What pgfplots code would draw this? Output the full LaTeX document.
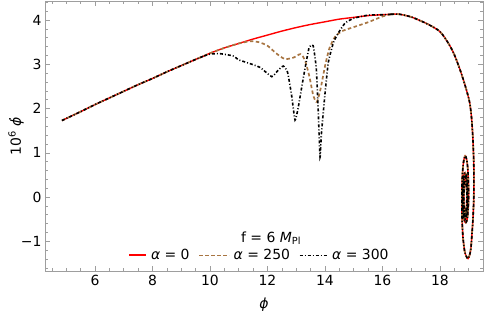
\documentclass[border=0pt]{standalone}
\usepackage{fontspec}
\setmainfont{DejaVu Sans}
\usepackage{pgfplots}
\usepackage{pgfplotstable}
\pgfplotsset{compat=1.18}
\definecolor{brn}{rgb}{0.66,0.46,0.26}
\definecolor{frm}{gray}{0.62}

\pgfplotstableread{
x y
4.85 1.73
5.5 1.93
6 2.09
6.5 2.24
7 2.39
7.5 2.54
8 2.68
8.5 2.83
9 2.97
9.5 3.11
9.8 3.19
}\commonstart

\pgfplotstableread{
x y
9.8 3.19
10 3.25
10.5 3.37
11 3.47
11.5 3.57
12 3.66
12.5 3.75
13 3.83
13.5 3.90
14 3.96
14.5 4.02
15 4.06
15.5 4.10
16 4.12
16.3 4.13
}\redmid

\pgfplotstableread{
x y
9.8 3.19
10 3.25
10.5 3.37
11 3.47
11.4 3.52
11.7 3.50
12.0 3.42
12.3 3.25
12.6 3.12
12.9 3.15
13.15 3.23
13.3 3.10
13.45 2.75
13.6 2.28
13.72 2.15
13.85 2.45
14.0 2.95
14.15 3.35
14.35 3.62
14.6 3.75
15.0 3.84
15.5 3.95
16.0 4.08
16.3 4.13
}\brownmid

\pgfplotstableread{
x y
9.8 3.19
10.0 3.23
10.35 3.24
10.8 3.19
11.0 3.10
11.28 3.04
11.74 2.93
12.15 2.72
12.35 2.85
12.55 2.96
12.7 2.82
12.84 2.30
12.96 1.74
13.07 2.02
13.25 2.70
13.45 3.38
13.59 3.42
13.7 2.90
13.77 1.90
13.83 0.90
13.88 1.45
14.0 2.32
14.12 3.05
14.3 3.50
14.46 3.70
14.7 3.93
15.0 4.04
15.5 4.11
16.0 4.12
16.3 4.13
}\blackmid

\pgfplotstableread{
x y
16.3 4.13
16.6 4.13
17 4.07
17.3 3.99
17.6 3.90
18 3.74
18.3 3.47
18.5 3.22
18.7 2.88
18.85 2.58
18.95 2.36
19.04 2.12
19.10 1.80
19.15 1.30
19.18 0.70
19.18 0.00
19.15 -0.50
19.12 -0.80
19.08 -1.15
19.03 -1.32
18.98 -1.39
18.92 -1.34
18.86 -1.22
18.80 -0.88
18.77 -0.45
18.765 0.00
18.77 0.30
18.80 0.66
18.84 0.86
18.88 0.93
18.92 0.88
18.96 0.72
18.99 0.40
19.00 0.00
18.98 -0.30
18.95 -0.50
18.90 -0.58
18.85 -0.53
18.81 -0.38
18.79 -0.15
18.79 0.10
18.80 0.32
18.84 0.50
18.88 0.55
18.92 0.48
18.95 0.30
18.97 0.00
18.96 -0.28
18.92 -0.45
18.88 -0.50
18.84 -0.45
18.81 -0.30
18.80 0.00
18.81 0.28
18.84 0.42
18.88 0.46
18.92 0.40
18.94 0.25
18.95 0.00
18.94 -0.22
18.91 -0.38
18.88 -0.42
18.85 -0.37
18.83 -0.22
18.82 0.00
18.83 0.20
18.85 0.34
18.88 0.38
18.91 0.33
18.93 0.20
18.94 0.00
18.93 -0.18
18.91 -0.31
18.88 -0.34
18.86 -0.30
18.84 -0.18
18.835 0.00
18.84 0.16
18.86 0.27
18.88 0.30
}\commonend

\newcommand{\phidot}{\makebox[0pt][l]{\hspace{0.34em}\raisebox{0.72em}{.}}\textit{ϕ}}

\begin{document}
\begin{tikzpicture}[font=\fontsize{14}{16}\selectfont]
\begin{axis}[
  scale only axis, width=438bp, height=270bp,
  xmin=4.26, xmax=19.5, ymin=-1.67, ymax=4.43,
  axis line style={frm, line width=0.8bp},
  tick align=inside,
  major tick length=5bp, minor tick length=2.6bp,
  every tick/.style={frm, line width=0.6bp},
  xtick={6,8,...,18}, xticklabels={6,8,10,12,14,16,18},
  ytick={-1,0,1,2,3,4}, yticklabels={−1,0,1,2,3,4},
  minor xtick={4.5,5,...,19.5},
  minor ytick={-1.6,-1.4,...,4.4},
  xticklabel style={yshift=-1bp},
  xlabel={\textit{ϕ}}, ylabel={10\textsuperscript{6} \phidot},
  xlabel style={at={(axis description cs:0.5,-0.125)}, anchor=center},
  ylabel style={at={(axis description cs:-0.066,0.5)}, anchor=center},
  legend columns=3,
  legend style={at={(rel axis cs:0.49,0.059)}, anchor=center, draw=none, fill=none,
    font=\fontsize{14}{16}\selectfont,
    /tikz/every odd column/.append style={column sep=2bp},
    /tikz/every even column/.append style={column sep=7bp}},
  legend cell align=left,
]
\addplot[red, line width=1.4bp, smooth, tension=0.5, forget plot] table {\commonstart};
\addplot[red, line width=1.4bp, smooth, tension=0.5,
  legend image code/.code={\draw[red, line width=1.3bp] (0bp,0bp) -- (17bp,0bp);}] table {\redmid};
\addlegendentry{\textit{α} = 0}
\addplot[red, line width=1.4bp, smooth, tension=0.5, forget plot] table {\commonend};

\addplot[brn, line width=1.7bp, dash pattern=on 3.5bp off 2.5bp, smooth, tension=0.5, forget plot] table {\commonstart};
\addplot[brn, line width=1.7bp, dash pattern=on 3.5bp off 2.5bp, smooth, tension=0.4,
  legend image code/.code={\draw[brn, line width=1.1bp, dash pattern=on 3.5bp off 2.5bp] (0bp,0bp) -- (30bp,0bp);}] table {\brownmid};
\addlegendentry{\textit{α} = 250}
\addplot[brn, line width=1.7bp, dash pattern=on 3.5bp off 2.5bp, smooth, tension=0.5, forget plot] table {\commonend};

\addplot[black, line width=1.6bp, dash pattern=on 3bp off 2bp on 1bp off 2bp, smooth, tension=0.5, forget plot] table {\commonstart};
\addplot[black, line width=1.6bp, dash pattern=on 3bp off 2bp on 1bp off 2bp, smooth, tension=0.3,
  legend image code/.code={\draw[black, line width=1.1bp, dash pattern=on 3bp off 2bp on 1bp off 2bp] (0bp,0bp) -- (28bp,0bp);}] table {\blackmid};
\addlegendentry{\textit{α} = 300}
\addplot[black, line width=1.6bp, dash pattern=on 3bp off 2bp on 1bp off 2bp, smooth, tension=0.5, forget plot] table {\commonend};

\node[anchor=center] at (rel axis cs:0.516,0.122) {f = 6 \textit{M}\textsubscript{Pl}};
\end{axis}
\pgfresetboundingbox
\useasboundingbox (-45bp,-42bp) rectangle (440bp,271bp);
\end{tikzpicture}
\end{document}
